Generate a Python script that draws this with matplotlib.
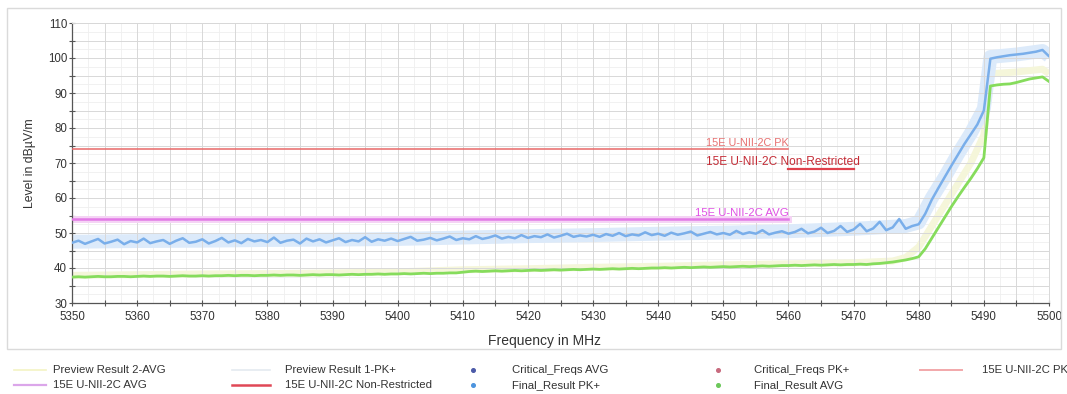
import matplotlib
matplotlib.use("Agg")
import matplotlib.pyplot as plt
from matplotlib.lines import Line2D
from matplotlib.patches import Rectangle
import numpy as np

plt.rcParams['font.family'] = ['Liberation Sans', 'DejaVu Sans']

# ---------------------------------------------------------------- data
freq = np.arange(5350, 5501)  # sweep, 1 MHz steps

final_pk = [
    47.2, 47.8, 46.9, 47.6, 48.3, 47.0, 47.5, 48.1, 46.8, 47.7,
    47.3, 48.4, 47.1, 47.6, 48.0, 46.9, 47.8, 48.5, 47.2, 47.5,
    48.2, 47.0, 47.7, 48.6, 47.3, 47.9, 47.1, 48.3, 47.6, 48.0,
    47.4, 48.7, 47.2, 47.8, 48.1, 47.0, 48.4, 47.6, 48.2, 47.3,
    47.9, 48.5, 47.4, 48.0, 47.6, 48.8, 47.5, 48.2, 47.8, 48.4,
    47.7, 48.3, 48.9, 47.8, 48.1, 48.6, 47.9, 48.4, 49.0, 48.0,
    48.5, 48.2, 49.1, 48.3, 48.7, 49.3, 48.4, 48.9, 48.5, 49.4,
    48.6, 49.1, 48.8, 49.6, 48.7, 49.2, 49.8, 48.9, 49.3, 49.0,
    49.5, 48.9, 49.7, 49.2, 50.0, 49.1, 49.6, 49.3, 50.2, 49.4,
    49.8, 49.2, 50.1, 49.5, 49.9, 50.4, 49.3, 49.8, 50.3, 49.6,
    50.0, 49.5, 50.6, 49.7, 50.2, 49.8, 50.8, 49.6, 50.1, 50.5,
    49.8, 50.3, 51.2, 49.9, 50.4, 51.5, 50.0, 50.6, 52.0, 50.3,
    51.0, 52.6, 50.5, 51.3, 53.2, 50.8, 51.6, 54.0, 51.2, 52.0,
    52.5, 55.5, 59.5, 62.8, 66.0, 69.2, 72.3, 75.4, 78.2, 81.0,
    85.0, 99.8, 100.2, 100.5, 100.8, 101.0, 101.2, 101.5, 101.8, 102.3, 100.5,
]

final_avg = [
    37.4, 37.5, 37.4, 37.5, 37.6, 37.5, 37.5, 37.6, 37.6, 37.5,
    37.6, 37.7, 37.6, 37.7, 37.7, 37.6, 37.7, 37.8, 37.7, 37.7,
    37.8, 37.7, 37.8, 37.8, 37.9, 37.8, 37.9, 37.9, 37.8, 37.9,
    37.9, 38.0, 37.9, 38.0, 38.0, 37.9, 38.0, 38.1, 38.0, 38.1,
    38.1, 38.0, 38.1, 38.2, 38.1, 38.2, 38.2, 38.3, 38.2, 38.3,
    38.3, 38.4, 38.3, 38.4, 38.5, 38.4, 38.5, 38.5, 38.6, 38.6,
    38.8, 39.0, 39.1, 39.0, 39.1, 39.2, 39.1, 39.2, 39.3, 39.2,
    39.3, 39.4, 39.3, 39.4, 39.5, 39.4, 39.5, 39.6, 39.5, 39.6,
    39.7, 39.6, 39.7, 39.8, 39.7, 39.8, 39.9, 39.8, 39.9, 40.0,
    40.0, 40.1, 40.0, 40.1, 40.2, 40.1, 40.2, 40.3, 40.2, 40.3,
    40.4, 40.3, 40.4, 40.5, 40.4, 40.5, 40.6, 40.5, 40.6, 40.7,
    40.7, 40.8, 40.7, 40.8, 40.9, 40.8, 40.9, 41.0, 40.9, 41.0,
    41.0, 41.1, 41.0, 41.2, 41.3, 41.5, 41.7, 42.0, 42.3, 42.7,
    43.2, 45.5, 48.5, 51.5, 54.5, 57.5, 60.3, 63.0, 65.6, 68.4,
    71.5, 92.0, 92.3, 92.5, 92.6, 93.0, 93.5, 94.0, 94.3, 94.6, 93.3,
]

preview_pk_freq = [5350, 5360, 5370, 5380, 5390, 5400, 5410, 5420, 5430, 5440,
                   5450, 5460, 5470, 5478, 5480, 5482, 5484, 5486, 5488, 5490,
                   5491, 5495, 5499, 5500]
preview_pk = [47.5, 47.7, 47.8, 48.0, 48.1, 48.3, 48.7, 49.1, 49.4, 49.8,
              50.1, 50.5, 51.2, 52.0, 53.0, 60.0, 66.0, 72.5, 78.5, 85.5,
              100.3, 101.0, 102.0, 100.6]

preview_avg_freq = [5350, 5360, 5370, 5380, 5390, 5400, 5410, 5420, 5430, 5440,
                    5450, 5460, 5470, 5476, 5478, 5480, 5482, 5484, 5486, 5488,
                    5490, 5491, 5495, 5499, 5500]
preview_avg = [37.9, 38.1, 38.3, 38.4, 38.6, 38.9, 39.5, 39.8, 40.2, 40.5,
               40.9, 41.2, 41.5, 42.0, 43.0, 46.0, 52.0, 58.0, 64.0, 70.0,
               78.0, 95.5, 96.0, 96.8, 95.5]

# limit lines: (level, start, stop)
limit_pk = (74.0, 5350, 5460)
limit_nonrestricted = (68.2, 5460, 5470)
limit_avg = (54.0, 5350, 5460)

x_ticks = list(range(5350, 5501, 10))
y_ticks = list(range(30, 111, 10))

legend_labels = [
    "Preview Result 2-AVG", "15E U-NII-2C AVG",
    "Preview Result 1-PK+", "15E U-NII-2C Non-Restricted",
    "Critical_Freqs AVG", "Final_Result PK+",
    "Critical_Freqs PK+", "Final_Result AVG",
    "15E U-NII-2C PK",
]

# ---------------------------------------------------------------- styles
C_PK = "#79aeea"
C_PK_HALO = "#dceafa"
C_AVG = "#86dc5c"
C_AVG_HALO = "#f5f6da"
C_LIM_PK = "#e86868"
C_LIM_NR = "#e0404c"
C_LIM_AVG = "#e27ae6"

W, H = 1067, 394
fig = plt.figure(figsize=(W / 100, H / 100), dpi=100)
ax = fig.add_axes([72 / W, 1 - 303 / H, (1049 - 72) / W, (303 - 23) / H])

# outer frame around chart region
fig.patches.append(Rectangle((7 / W, 1 - 349 / H), (1061 - 7) / W, (349 - 8) / H,
                             transform=fig.transFigure, fill=False,
                             ec="#dadada", lw=1.0))

ax.set_xlim(5350, 5500)
ax.set_ylim(30, 110)

# grid: fine lines every 2.5, stronger every 5
for v in np.arange(5352.5, 5500, 5):
    ax.axvline(v, color="#efefef", lw=0.6, zorder=0)
for v in np.arange(32.5, 110, 5):
    ax.axhline(v, color="#efefef", lw=0.6, zorder=0)
ax.set_xticks(x_ticks)
ax.set_xticks(range(5355, 5500, 10), minor=True)
ax.set_yticks(y_ticks)
ax.set_yticks(range(35, 110, 10), minor=True)
ax.grid(True, which="both", color="#d8d8d8", lw=0.7, zorder=0)

for s in ("top", "right"):
    ax.spines[s].set_color("#d8d8d8")
    ax.spines[s].set_linewidth(0.7)
for s in ("left", "bottom"):
    ax.spines[s].set_color("#555555")
    ax.spines[s].set_linewidth(0.9)

ax.tick_params(which="both", direction="inout", length=5, width=0.8,
               color="#555555", labelsize=8.3, labelcolor="#333333")
ax.tick_params(axis="x", pad=3)
ax.tick_params(axis="y", pad=1)

# preview traces (pale halos)
ax.plot(preview_avg_freq, preview_avg, color=C_AVG_HALO, lw=5, zorder=1,
        solid_capstyle="butt")
ax.plot(preview_pk_freq, preview_pk, color=C_PK_HALO, lw=10, zorder=1,
        solid_capstyle="butt")

# limit lines
lv, a, b = limit_pk
ax.plot([a, b], [lv, lv], color=C_LIM_PK, lw=1.1, zorder=3)
lv, a, b = limit_nonrestricted
ax.plot([a, b], [lv, lv], color=C_LIM_NR, lw=1.6, zorder=3)
lv, a, b = limit_avg
ax.plot([a, b], [lv, lv], color="#f5d3f5", lw=5, zorder=2)
ax.plot([a, b], [lv, lv], color=C_LIM_AVG, lw=1.8, zorder=3)

# final traces
ax.plot(freq, final_avg, color=C_AVG, lw=2.0, zorder=4)
ax.plot(freq, final_pk, color=C_PK, lw=1.8, zorder=5)

# limit labels
ax.text(limit_pk[2], limit_pk[0] + 0.4, "15E U-NII-2C PK", color="#e77070",
        fontsize=7.8, ha="right", va="bottom", zorder=6)
ax.text(5447.4, limit_nonrestricted[0] + 0.3, "15E U-NII-2C Non-Restricted",
        color="#c42c36", fontsize=8.6, ha="left", va="bottom", zorder=6)
ax.text(limit_avg[2], limit_avg[0] + 0.4, "15E U-NII-2C AVG", color="#e050e4",
        fontsize=8.2, ha="right", va="bottom", zorder=6)

ax.set_xlabel("Frequency in MHz", fontsize=10, color="#333333")
ax.xaxis.set_label_coords(0.484, -0.136)
ax.xaxis.label.set_va("center")
ax.set_ylabel("Level in dBµV/m", fontsize=8.8, color="#333333")
ax.yaxis.set_label_coords(-0.043, 0.5)
ax.yaxis.label.set_va("center")

# legend below the frame, two rows
row_y = [1 - 370 / H, 1 - 385 / H]
legend_keys = [
    ("line", "#f3f3c4", 1.2), ("line", "#dba6ea", 1.6),
    ("line", "#e4eaf0", 1.2), ("line", "#e04856", 1.8),
    ("dot", "#4c5aa8", 0), ("dot", "#4d94de", 0),
    ("dot", "#c86a7e", 0), ("dot", "#6cc85a", 0),
    ("line", "#f2a8aa", 1.4),
]
col_key = [(14, 46), (232, 270), (473, 473), (718, 718), (920, 962)]
col_text = [53, 285, 512, 754, 982]
for i, (label, key) in enumerate(zip(legend_labels, legend_keys)):
    col, row = divmod(i, 2)
    y = row_y[row]
    kind, color, lw = key
    x0, x1 = col_key[col]
    if kind == "line":
        fig.add_artist(Line2D([x0 / W, x1 / W], [y, y], color=color, lw=lw,
                              transform=fig.transFigure))
    else:
        fig.add_artist(Line2D([x0 / W], [y], marker="o", ms=2.6, color=color,
                              ls="none", transform=fig.transFigure))
    fig.text(col_text[col] / W, y, label, fontsize=8.2, color="#333333",
             ha="left", va="center")

fig.savefig("out.png", dpi=100)
